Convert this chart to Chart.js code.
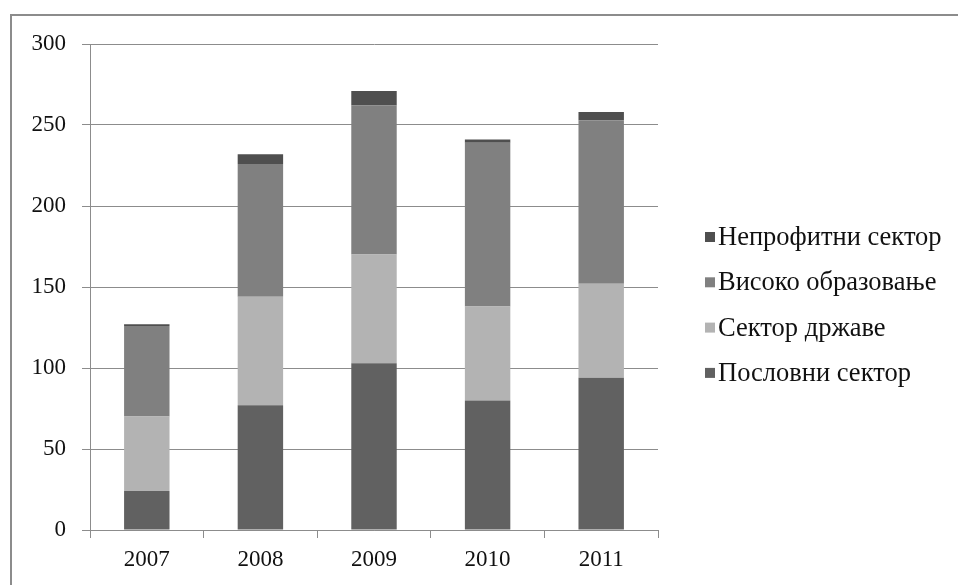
<!DOCTYPE html>
<html>
<head>
<meta charset="utf-8">
<script src="https://cdn.jsdelivr.net/npm/chart.js@4"></script>
<style>
  html, body { margin: 0; padding: 0; background: #fff; overflow: hidden; }
  #frame {
    position: absolute; left: 10px; top: 14px;
    width: 1000px; height: 620px;
    border: 2px solid #8c8c8c;
  }
  #wrap { position: absolute; left: 0; top: 0; width: 958px; height: 585px; }
</style>
</head>
<body>
<div id="frame"></div>
<div id="wrap"><canvas id="c" width="958" height="585"></canvas></div>
<script>
// Years on the category axis
const years = ['2007', '2008', '2009', '2010', '2011'];

// Stacked series, bottom to top
const poslovni   = [24, 77, 103, 80, 94];     // Пословни сектор
const drzave     = [46, 67, 67, 58, 58];      // Сектор државе
const visoko     = [56, 82, 92, 101, 101];    // Високо образовање
const neprofitni = [1, 6, 9, 2, 5];           // Непрофитни сектор

const seriesNames = ['Пословни сектор', 'Сектор државе', 'Високо образовање', 'Непрофитни сектор'];
const seriesColors = ['#616161', '#b3b3b3', '#808080', '#4f4f4f'];

const yTicks = [0, 50, 100, 150, 200, 250, 300];

const gridColor = '#8c8c8c';
const serif = "'Liberation Serif', 'Times New Roman', serif";

// Legend on the right, listed top-down in reverse stacking order
const sideLegend = {
  id: 'sideLegend',
  afterDraw(chart) {
    const ctx = chart.ctx;
    const items = chart.data.datasets.map(d => ({ label: d.label, color: d.backgroundColor })).reverse();
    const x0 = 705, y0 = 237, step = 45.3;
    ctx.save();
    ctx.font = '26.5px ' + serif;
    ctx.textBaseline = 'middle';
    ctx.textAlign = 'left';
    items.forEach((it, i) => {
      const cy = y0 + i * step;
      ctx.fillStyle = it.color;
      ctx.fillRect(x0, cy - 5, 10, 10);
      ctx.fillStyle = '#111';
      ctx.fillText(it.label, x0 + 13, cy + 1);
    });
    ctx.restore();
  }
};

const data = {
  labels: years,
  datasets: [poslovni, drzave, visoko, neprofitni].map((vals, i) => ({
    label: seriesNames[i],
    data: vals,
    backgroundColor: seriesColors[i],
    borderWidth: 0,
    barPercentage: 0.4,
    categoryPercentage: 1.0
  }))
};

new Chart(document.getElementById('c'), {
  type: 'bar',
  data,
  plugins: [sideLegend],
  options: {
    responsive: false,
    animation: false,
    layout: { padding: { top: 44, right: 300, bottom: 0, left: 0 } },
    plugins: { legend: { display: false }, tooltip: { enabled: false } },
    scales: {
      x: {
        stacked: true,
        grid: { offset: true, drawOnChartArea: false, drawTicks: true, tickLength: 8, color: gridColor },
        border: { display: true, color: gridColor, width: 1 },
        ticks: { color: '#111', font: { family: serif, size: 23 }, padding: 8, maxRotation: 0 },
        afterFit(scale) { scale.height = 55; }
      },
      y: {
        stacked: true,
        min: 0, max: 300,
        afterBuildTicks(scale) { scale.ticks = yTicks.map(v => ({ value: v })); },
        grid: { color: gridColor, tickLength: 8, drawTicks: true },
        border: { display: true, color: gridColor, width: 1 },
        ticks: { color: '#111', font: { family: serif, size: 23 }, padding: 16 },
        afterFit(scale) { scale.width = 90; }
      }
    }
  }
});
</script>
</body>
</html>
